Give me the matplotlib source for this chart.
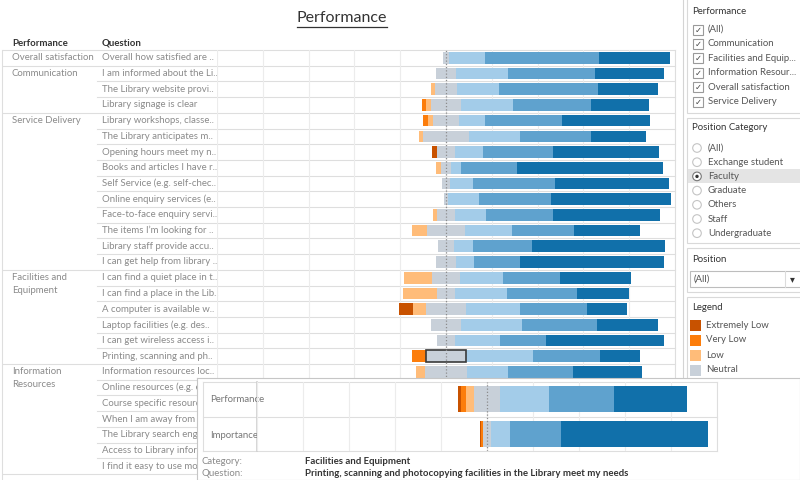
import numpy as np
import matplotlib.pyplot as plt
from matplotlib.patches import Rectangle, Circle

plt.rcParams['font.family'] = ['Lato', 'DejaVu Sans']

# ---- data -------------------------------------------------------------
levels = ['Extremely Low', 'Very Low', 'Low', 'Neutral', 'High', 'Very High', 'Extremely High']
colors = ['#c85200', '#fc7d0b', '#ffbc79', '#c8d0d9', '#a3cce9', '#5fa2ce', '#1170aa']

categories = ['Overall satisfaction', 'Communication', 'Service Delivery',
              'Facilities and\nEquipment', 'Information\nResources']
group_start = [0, 1, 4, 14, 20]

# labels as far as they can be seen (the last rows are cut by the tooltip)
questions = [
    'Overall how satisfied are ..',
    'I am informed about the Li..',
    'The Library website provi..',
    'Library signage is clear',
    'Library workshops, classe..',
    'The Library anticipates m..',
    'Opening hours meet my n..',
    'Books and articles I have r..',
    'Self Service (e.g. self-chec..',
    'Online enquiry services (e..',
    'Face-to-face enquiry servi..',
    'The items I\u2019m looking for ..',
    'Library staff provide accu..',
    'I can get help from library ..',
    'I can find a quiet place in t..',
    'I can find a place in the Lib..',
    'A computer is available w..',
    'Laptop facilities (e.g. des..',
    'I can get wireless access i..',
    'Printing, scanning and ph..',
    'Information resources loc..',
    'Online resources (e.g. e',
    'Course specific resourc',
    'When I am away from c',
    'The Library search eng',
    'Access to Library infor',
    'I find it easy to use mo',
]

# percentages per answer level (visible rows only)
ext_low   = [0, 0, 0, 0, 0, 0, 2.3, 0, 0, 0, 0, 0, 0, 0, 0, 0, 5.8, 0, 0, 0, 0]
very_low  = [0, 0, 0, 1.9, 2.3, 0, 0, 0, 0, 0, 0, 0, 0, 0, 0, 0, 0, 0, 0, 5.8, 0]
low       = [0, 0, 1.6, 1.9, 2.2, 1.9, 0, 2.0, 0, 0, 1.7, 6.6, 0, 0, 12.2, 15.1, 5.8, 0, 0, 0, 4.1]
neutral   = [2.6, 8.3, 9.6, 13.4, 11.0, 20.0, 7.7, 4.7, 3.9, 1.7, 7.7, 16.3, 7.1, 8.4, 12.4, 7.7, 17.5, 12.8, 7.7, 17.8, 18.3]
high      = [15.9, 23.1, 18.2, 22.6, 11.4, 22.1, 12.4, 4.2, 10.0, 13.7, 13.7, 20.8, 8.3, 8.2, 18.5, 22.8, 23.4, 26.6, 19.8, 29.1, 18.0]
very_high = [49.6, 37.8, 43.2, 34.0, 33.8, 31.3, 30.6, 24.3, 35.7, 31.1, 29.1, 26.8, 25.8, 19.8, 25.0, 30.7, 29.3, 33.0, 20.2, 29.1, 28.5]
ext_high  = [30.9, 30.0, 26.5, 25.5, 38.4, 23.9, 46.3, 64.0, 49.8, 52.5, 46.9, 29.0, 57.9, 62.9, 31.1, 22.7, 17.5, 26.6, 51.5, 17.6, 30.1]
selected_row = 19

# tooltip
tip_rows = ['Performance', 'Importance']
tip_ext_low   = [1.45, 0.6]
tip_very_low  = [1.9, 0.7]
tip_low       = [3.6, 0.0]
tip_neutral   = [11.2, 3.8]
tip_high      = [21.2, 8.1]
tip_very_high = [28.3, 22.2]
tip_ext_high  = [31.8, 64.1]
tip_category = 'Facilities and Equipment'
tip_question = 'Printing, scanning and photocopying facilities in the Library meet my needs'

perf_filter = ['(All)', 'Communication', 'Facilities and Equip...', 'Information Resour...',
               'Overall satisfaction', 'Service Delivery']
position_categories = ['(All)', 'Exchange student', 'Faculty', 'Graduate', 'Others', 'Staff', 'Undergraduate']
selected_position = 'Faculty'
legend_shown = levels[:4]

# ---- layout helpers ---------------------------------------------------
W, H = 800, 480
fig = plt.figure(figsize=(8, 4.8), dpi=100)


def box(x0, y0, x1, y1):
    return [x0 / W, 1 - y1 / H, (x1 - x0) / W, (y1 - y0) / H]


def diverging(ax, series, y, height, zorder=2):
    data = np.array(series, dtype=float)
    left = -(data[0] + data[1] + data[2] + data[3] / 2)
    for k in range(len(data)):
        ax.barh(y, data[k], left=left, height=height, color=colors[k],
                linewidth=0, zorder=zorder)
        left = left + data[k]


def grid(ax):
    for gx in range(-100, 101, 20):
        ax.axvline(gx, color='#ececec', lw=0.8, zorder=1)
    ax.axvline(0, color='#8c8c8c', lw=0.9, ls=(0, (1, 1.6)), zorder=4)
    ax.set_xlim(-100, 100)
    ax.set_xticks([])
    ax.set_yticks([])


TXT = 6.9
GREY = '#8a8a8a'
DARK = '#333333'

# ---- background axes (pixel coords) ----------------------------------
bg = fig.add_axes([0, 0, 1, 1], zorder=0)
bg.set_xlim(0, W)
bg.set_ylim(H, 0)
bg.axis('off')

t = bg.text(342, 18, 'Performance', fontsize=11.5, ha='center', va='center', color=DARK)
fig.canvas.draw()
bb = t.get_window_extent().transformed(bg.transData.inverted())
bg.plot([bb.x0, bb.x1], [27, 27], color=DARK, lw=0.9)

bg.text(12, 43, 'Performance', fontsize=TXT, fontweight='bold', color=DARK, va='center')
bg.text(102, 43, 'Question', fontsize=TXT, fontweight='bold', color=DARK, va='center')

n = len(questions)
top, bottom = 50, 474
step = (bottom - top) / n
for i in range(n + 1):
    yy = top + i * step
    x0 = 3 if (i in group_start or i == n) else 97
    bg.plot([x0, 675], [yy, yy], color='#dedede', lw=0.8)
bg.plot([2, 2], [top, H], color='#dedede', lw=0.8)
bg.plot([675, 675], [top, bottom], color='#dedede', lw=0.8)

for i, q in enumerate(questions):
    bg.text(102, top + (i + 0.5) * step, q, fontsize=TXT, color=GREY, va='center')
for g, c in zip(group_start, categories):
    bg.text(12, top + g * step + 3, c, fontsize=TXT, color=GREY, va='top', linespacing=1.6)

# ---- main chart -------------------------------------------------------
ax = fig.add_axes(box(217, top, 675, bottom), zorder=1)
ax.patch.set_alpha(0)
for s in ax.spines.values():
    s.set_visible(False)
grid(ax)
rows = np.arange(len(neutral))
diverging(ax, [ext_low, very_low, low, neutral, high, very_high, ext_high], rows, 0.74)
ax.set_ylim(n - 0.5, -0.5)
sel_left = -neutral[selected_row] / 2
ax.add_patch(Rectangle((sel_left, selected_row - 0.37), neutral[selected_row], 0.74,
                       fill=False, edgecolor='#3a3a3a', lw=1.2, zorder=3))

# ---- right panel ------------------------------------------------------
bg.plot([683, 683], [0, H], color='#d4d4d4', lw=0.8)
for (y0, y1) in [(-2, 113), (118, 243), (248, 292), (297, 485)]:
    bg.add_patch(Rectangle((687, y0), 120, y1 - y0, facecolor='white',
                           edgecolor='#d9d9d9', lw=0.8))

bg.text(692, 11, 'Performance', fontsize=TXT, color=DARK, va='center')
for i, lab in enumerate(perf_filter):
    yy = 29.5 + i * 14.4
    bg.add_patch(Rectangle((693, yy - 5), 10, 10, facecolor='white', edgecolor='#9a9a9a', lw=0.8))
    bg.text(698, yy + 0.5, '\u2713', fontsize=6, color='#444', ha='center', va='center',
            family='DejaVu Sans')
    bg.text(708, yy, lab, fontsize=TXT, color='#555', va='center')

bg.text(692, 128, 'Position Category', fontsize=TXT, color=DARK, va='center')
for i, lab in enumerate(position_categories):
    yy = 148 + i * 14.2
    if lab == selected_position:
        bg.add_patch(Rectangle((688, yy - 7), 112, 14, facecolor='#e4e4e4', lw=0))
        bg.add_patch(Circle((697, yy), 4.3, facecolor='white', edgecolor='#777', lw=0.8))
        bg.add_patch(Circle((697, yy), 1.7, facecolor='#333', lw=0))
    else:
        bg.add_patch(Circle((697, yy), 4.3, facecolor='white', edgecolor='#c4c4c4', lw=0.8))
    bg.text(708, yy, lab, fontsize=TXT, color='#555', va='center')

bg.text(692, 259, 'Position', fontsize=TXT, color=DARK, va='center')
bg.add_patch(Rectangle((690, 271), 112, 16, facecolor='white', edgecolor='#bdbdbd', lw=0.8))
bg.plot([785, 785], [271, 287], color='#dcdcdc', lw=0.8)
bg.text(694, 279, '(All)', fontsize=TXT, color='#555', va='center')
bg.text(792, 279, '\u25be', fontsize=7, color='#333', ha='center', va='center', family='DejaVu Sans')

bg.text(692, 307, 'Legend', fontsize=TXT, color=DARK, va='center')
for i, lab in enumerate(legend_shown):
    yy = 325 + i * 15
    bg.add_patch(Rectangle((690, yy - 5.5), 11, 11, facecolor=colors[i], lw=0))
    bg.text(706, yy, lab, fontsize=TXT, color='#555', va='center')

# ---- tooltip ----------------------------------------------------------
tip = fig.add_axes(box(197, 378, 800, 480), zorder=5)
tip.set_xlim(197, 800)
tip.set_ylim(480, 378)
tip.set_xticks([])
tip.set_yticks([])
for s in tip.spines.values():
    s.set_color('#c6c6c6')
    s.set_linewidth(0.8)

for yy in [382, 416.5, 451]:
    tip.plot([203, 717], [yy, yy], color='#dedede', lw=0.8)
tip.plot([203, 203], [382, 451], color='#dedede', lw=0.8)
tip.plot([257, 257], [382, 451], color='#cfcfcf', lw=1.2)
tip.plot([717, 717], [382, 451], color='#dedede', lw=0.8)
for i, lab in enumerate(tip_rows):
    tip.text(210, 400 + i * 35, lab, fontsize=TXT, color='#777', va='center')

tip.text(202, 462, 'Category:', fontsize=TXT, color=GREY, va='center')
tip.text(202, 474, 'Question:', fontsize=TXT, color=GREY, va='center')
tip.text(305, 462, tip_category, fontsize=TXT, color=DARK, fontweight='bold', va='center')
tip.text(305, 474, tip_question, fontsize=TXT, color=DARK, fontweight='bold', va='center')

tax = fig.add_axes(box(257, 382, 717, 451), zorder=6)
tax.patch.set_alpha(0)
for s in tax.spines.values():
    s.set_visible(False)
grid(tax)
diverging(tax, [tip_ext_low, tip_very_low, tip_low, tip_neutral, tip_high, tip_very_high, tip_ext_high],
          np.arange(len(tip_rows)), 0.76)
tax.set_ylim(len(tip_rows) - 0.5, -0.5)

plt.savefig('out.png', dpi=100)
